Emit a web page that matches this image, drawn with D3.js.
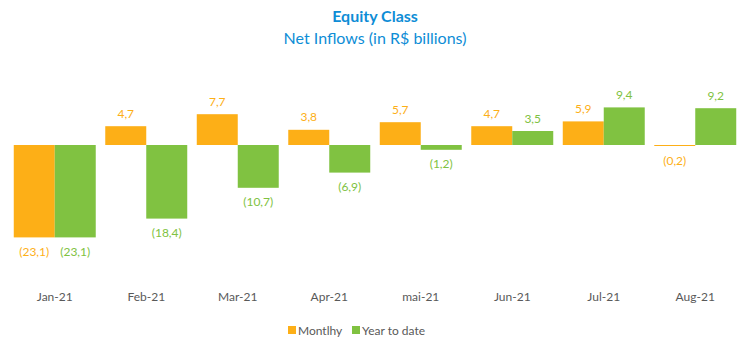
<!DOCTYPE html>
<html><head><meta charset="utf-8">
<script src="https://cdn.jsdelivr.net/npm/d3@7"></script>
<style>body{margin:0;background:#fff}svg{display:block;font-family:Lato,"Open Sans",sans-serif}</style>
</head><body><svg id="c" width="750" height="355"></svg>
<script>
const categories = ["Jan-21","Feb-21","Mar-21","Apr-21","mai-21","Jun-21","Jul-21","Aug-21"];
const monthly = [-23.1, 4.7, 7.7, 3.8, 5.7, 4.7, 5.9, -0.2];
const ytd = [-23.1, -18.4, -10.7, -6.9, -1.2, 3.5, 9.4, 9.2];
const seriesNames = ["Montlhy","Year to date"];
const colors = ["#FDAF17","#80C241"];

const svg = d3.select("#c");
const x0 = d3.scaleBand().domain(categories).range([9, 741]).paddingInner(0.104).paddingOuter(0.052);
const x1 = d3.scaleBand().domain([0,1]).range([0, x0.bandwidth()]);
const y = d3.scaleLinear().domain([-25, 10]).range([245, 105]);
const fmt = v => { const s = Math.abs(v).toFixed(1).replace(".", ","); return v < 0 ? "(" + s + ")" : s; };

svg.append("text").attr("x",375).attr("y",22).attr("text-anchor","middle")
  .attr("font-size",16).attr("font-weight","bold").attr("fill","#0E8DD6").text("Equity Class");
svg.append("text").attr("x",375).attr("y",44).attr("text-anchor","middle")
  .attr("font-size",16).attr("fill","#0E8DD6").text("Net Inflows (in R$ billions)");

const data = [monthly, ytd];
data.forEach((vals, si) => {
  const g = svg.append("g");
  g.selectAll("rect").data(vals).join("rect")
    .attr("x", (d,i) => x0(categories[i]) + x1(si))
    .attr("width", x1.bandwidth())
    .attr("y", d => y(Math.max(0,d)))
    .attr("height", d => Math.max(1, Math.abs(y(d) - y(0))))
    .attr("fill", colors[si]);
  g.selectAll("text").data(vals).join("text")
    .attr("x", (d,i) => x0(categories[i]) + x1(si) + x1.bandwidth()/2)
    .attr("y", d => d >= 0 ? y(d) - 13 : Math.max(y(d), y(0)+1) + 14)
    .attr("dominant-baseline","central")
    .attr("text-anchor","middle").attr("font-size",12).attr("fill", colors[si])
    .text(d => fmt(d));
});

const ax = svg.append("g").attr("transform","translate(0,292)")
  .call(d3.axisBottom(x0).tickSize(0).tickPadding(0));
ax.select(".domain").remove();
ax.selectAll("text").attr("font-size",12).attr("fill","#595959").attr("font-family","Lato, 'Open Sans', sans-serif");

const leg = svg.append("g");
const lx = [288, 352];
seriesNames.forEach((n, i) => {
  leg.append("rect").attr("x", lx[i]).attr("y", 326).attr("width", 8).attr("height", 8).attr("fill", colors[i]);
  leg.append("text").attr("x", lx[i] + 10).attr("y", 330).attr("dominant-baseline","central")
    .attr("font-size",12).attr("fill","#595959").text(n);
});
</script></body></html>
